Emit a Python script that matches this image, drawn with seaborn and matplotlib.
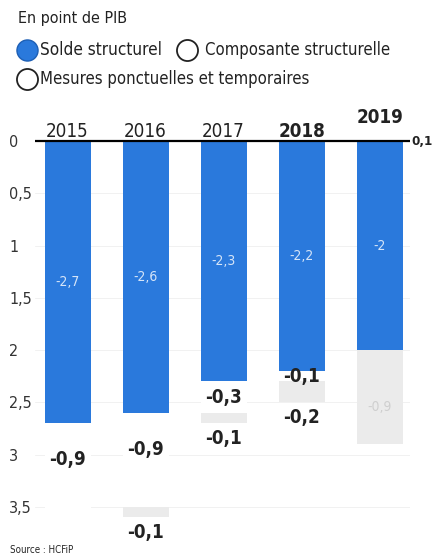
import matplotlib
matplotlib.use('Agg')
import matplotlib.pyplot as plt
import seaborn as sns
import numpy as np
import pandas as pd

# ── data (en point de PIB) ───────────────────────────────────────────────
years = ['2015', '2016', '2017', '2018', '2019']
solde_structurel = [-2.7, -2.6, -2.3, -2.2, -2.0]
composante = [-0.9, -0.9, -0.3, -0.1, 0.1]
mesures = [0.0, -0.1, -0.1, -0.2, -0.9]
solde_labels = ['-2,7', '-2,6', '-2,3', '-2,2', '-2']
composante_labels = ['-0,9', '-0,9', '-0,3', '-0,1', '0,1']
mesures_labels = ['', '-0,1', '-0,1', '-0,2', '-0,9']
ytick_vals = [0, 0.5, 1, 1.5, 2, 2.5, 3, 3.5]
ytick_labels = ['0', '0,5', '1', '1,5', '2', '2,5', '3', '3,5']

BLUE = '#2a79dc'
GREY = '#ebebeb'
INK = '#222222'

sns.set_theme(style='white')
plt.rcParams['font.family'] = ['DejaVu Sans']
plt.rcParams['font.stretch'] = 'condensed'

fig = plt.figure(figsize=(4.32, 5.59), dpi=100)
ax = fig.add_axes([35 / 432, 0.0374, 375 / 432, 0.785])

# depths (positive downward, axis inverted)
d_solde = -np.array(solde_structurel)
comp_neg = np.clip(-np.array(composante), 0, None)
comp_pos = np.clip(np.array(composante), 0, None)
d_comp = d_solde + comp_neg
d_mes = d_comp - np.array(mesures)

df = pd.DataFrame({'year': years, 'solde': d_solde, 'comp': d_comp,
                   'mes': d_mes, 'pos': -comp_pos})

# stacked by over-drawing cumulative depths
bar_kw = dict(x='year', order=years, width=0.59, saturation=1, linewidth=0, ax=ax)
sns.barplot(data=df, y='mes', color=GREY, **bar_kw)
sns.barplot(data=df, y='comp', color='white', **bar_kw)
sns.barplot(data=df, y='pos', color='white', **bar_kw)
sns.barplot(data=df, y='solde', color=BLUE, **bar_kw)

for y in ytick_vals[1:]:
    ax.axhline(y, color='#f1f1f1', lw=0.7, zorder=0)
ax.axhline(0, color='black', lw=1.6, zorder=5)

ax.set_xlim(-0.417, 4.39)
ax.set_ylim(3.8, -0.4)
ax.set_xticks([])
ax.set_xlabel('')
ax.set_ylabel('')
ax.set_yticks(ytick_vals)
ax.set_yticklabels(ytick_labels)
ax.tick_params(axis='y', length=0, pad=18.5, labelsize=11.5, labelcolor='#333333')
for lab in ax.get_yticklabels():
    lab.set_ha('left')
sns.despine(ax=ax, left=True, bottom=True)

# year labels
for i, yr in enumerate(years):
    raised = comp_pos[i] > 0
    ax.text(i, -0.17 if raised else -0.04, yr, ha='center', va='baseline',
            fontsize=13.5, color=INK,
            fontweight='bold' if i >= 3 else 'normal')

# value labels
for i in range(len(years)):
    ax.text(i, d_solde[i] / 2, solde_labels[i], ha='center', va='center',
            fontsize=10, color='#d6e5f8')
    if comp_pos[i] > 0:
        ax.text(i + 0.59 / 2 + 0.11, 0, composante_labels[i], ha='left', va='center',
                fontsize=9.5, fontweight='bold', color=INK)
    else:
        off = min(comp_neg[i] / 2, 0.35)
        ax.text(i, d_solde[i] + off, composante_labels[i], ha='center',
                va='center', fontsize=13.5, fontweight='bold', color=INK)
    if mesures_labels[i]:
        if -mesures[i] >= 0.5:
            ax.text(i, (d_comp[i] + d_mes[i]) / 2 + 0.1, mesures_labels[i], ha='center',
                    va='center', fontsize=10, color='#cfcfcf')
        else:
            ax.text(i, d_mes[i] + 0.15, mesures_labels[i], ha='center', va='center',
                    fontsize=13.5, fontweight='bold', color=INK)

# header: title + legend (pixel coordinates)
ov = fig.add_axes([0, 0, 1, 1], zorder=-1)
ov.set_xlim(0, 432)
ov.set_ylim(559, 0)
ov.axis('off')
ov.text(18, 18, 'En point de PIB', ha='left', va='center', fontsize=11.5, color=INK)
ov.scatter([27], [50], s=230, color=BLUE, edgecolor='#1d5fb5', linewidth=1.0)
ov.scatter([187, 27], [50, 79], s=230, color='white', edgecolor=INK, linewidth=1.3)
ov.text(40, 50, 'Solde structurel', ha='left', va='center', fontsize=12.3, color=INK)
ov.text(205, 50, 'Composante structurelle', ha='left', va='center', fontsize=12,
        color=INK)
ov.text(40, 79, 'Mesures ponctuelles et temporaires', ha='left', va='center',
        fontsize=12, color=INK)
ov.text(10, 550, 'Source : HCFiP', ha='left', va='center', fontsize=7, color=INK)

fig.savefig('out.png', dpi=100, facecolor='white')
